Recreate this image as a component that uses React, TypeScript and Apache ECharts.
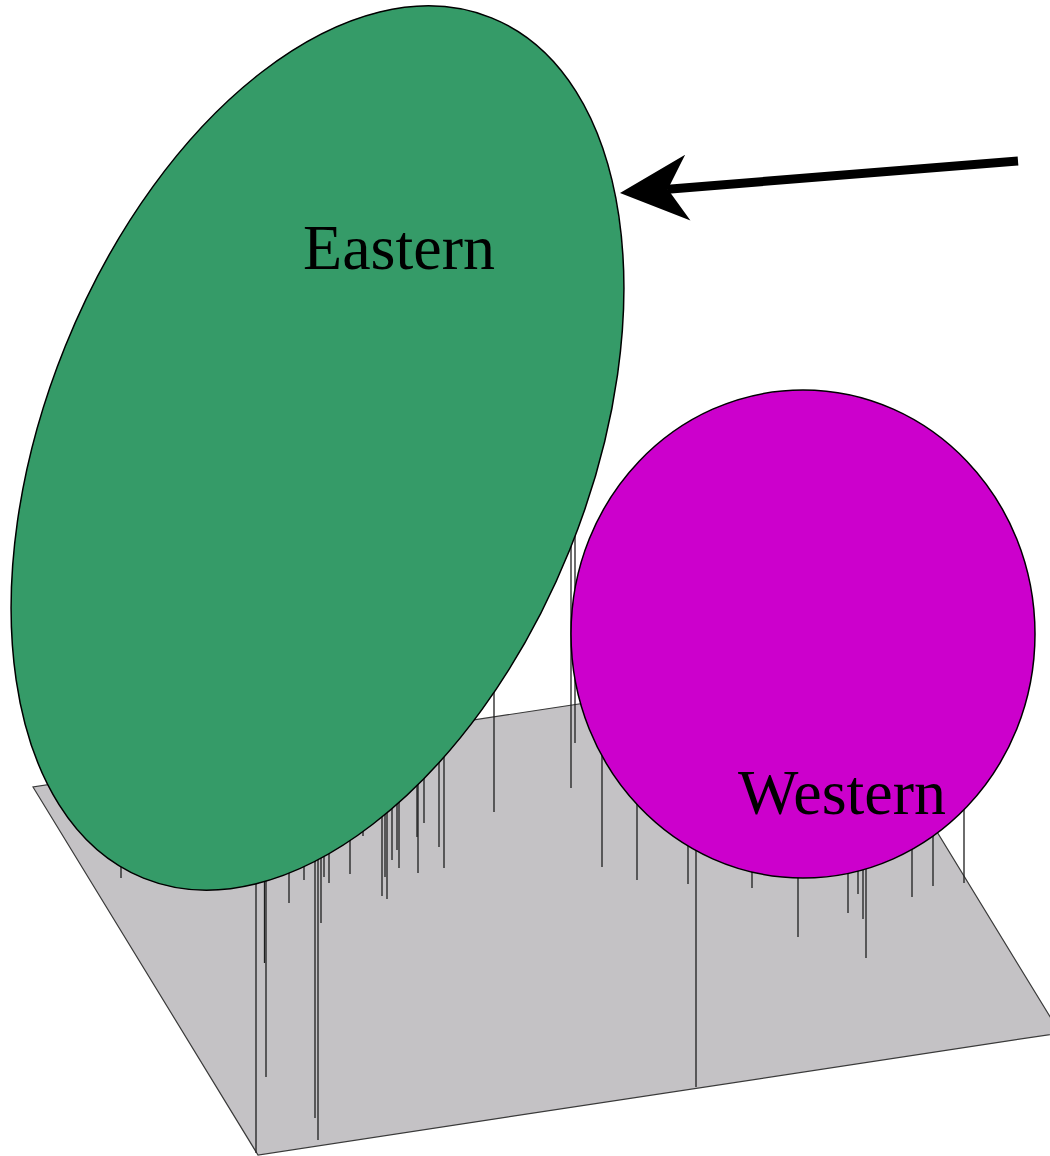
import React, { useEffect, useRef } from "react";
import * as echarts from "echarts";

// Base plane (parallelogram) corners
const planeX = [33, 258, 1060, 835];
const planeY = [787, 1155, 1033, 665];

// Drop lines: x position, projected point height (top), foot on plane (bottom)
const dropX = [121, 256, 264.5, 266, 289, 304, 315, 318, 321, 324, 329, 350, 363, 382, 385, 387, 392, 397, 399, 417, 418, 424, 439, 444, 494, 571, 575,
  602, 637, 688, 696, 752, 798, 848, 858, 863, 866, 912, 933, 964];
const dropTop = [800, 820, 820, 820, 760, 760, 760, 760, 760, 760, 760, 760, 760, 740, 740, 740, 740, 740, 740, 720, 720, 720, 720, 720, 600, 500, 500,
  700, 700, 700, 700, 700, 700, 700, 700, 700, 700, 700, 700, 740];
const dropBottom = [878, 1153, 963, 1077, 903, 880, 1118, 1140, 923, 877, 883, 874, 836, 896, 877, 899, 860, 850, 868, 837, 873, 823, 847, 868, 812, 788, 743,
  867, 880, 884, 1087, 888, 937, 913, 894, 919, 958, 897, 886, 883];

// Cluster ellipses
const clusterNames = ["Eastern", "Western"];
const clusterCX = [317.5, 803];
const clusterCY = [448, 634];
const clusterA = [464, 232];
const clusterB = [272, 244];
const clusterAngle = [68, 0];
const clusterColors = ["#359b68", "#cc00cc"];
const labelX = [399, 842];
const labelY = [247, 792];

// Arrow annotation
const arrowTail = [1018, 161];
const arrowTip = [620, 193];

export default function App() {
  const ref = useRef<HTMLDivElement>(null);
  useEffect(() => {
    document.body.style.margin = "0";
    const chart = echarts.init(ref.current!, null, { renderer: "svg" });
    const option: any = {
      animation: false,
      grid: { left: 0, right: 0, top: 0, bottom: 0 },
      xAxis: { type: "value", min: 0, max: 1050, show: false },
      yAxis: { type: "value", min: 0, max: 1156, inverse: true, show: false },
      series: [
        {
          type: "custom",
          z: 1,
          data: planeX.map((x, i) => [x, planeY[i]]),
          renderItem: (params: any, api: any) => {
            if (params.dataIndex !== 0) return null;
            const pts = planeX.map((x, i) => api.coord([x, planeY[i]]));
            return {
              type: "polygon",
              shape: { points: pts },
              style: { fill: "#c4c2c5", stroke: "#3a3a3a", lineWidth: 1.2 },
            };
          },
        },
        {
          type: "custom",
          z: 2,
          data: dropX.map((x, i) => [x, dropTop[i], dropBottom[i]]),
          renderItem: (params: any, api: any) => {
            const p1 = api.coord([api.value(0), api.value(1)]);
            const p2 = api.coord([api.value(0), api.value(2)]);
            return {
              type: "line",
              shape: { x1: p1[0], y1: p1[1], x2: p2[0], y2: p2[1] },
              style: { stroke: "#1e1e1e", lineWidth: 1.3 },
            };
          },
        },
        {
          type: "custom",
          z: 3,
          data: clusterNames.map((n, i) => [clusterCX[i], clusterCY[i], clusterA[i], clusterB[i], clusterAngle[i]]),
          renderItem: (params: any, api: any) => {
            const c = api.coord([api.value(0), api.value(1)]);
            const s = api.size([api.value(2) * 2, api.value(3) * 2], [api.value(0), api.value(1)]);
            return {
              type: "ellipse",
              x: c[0],
              y: c[1],
              rotation: (api.value(4) * Math.PI) / 180,
              shape: { cx: 0, cy: 0, rx: Math.abs(s[0]) / 2, ry: Math.abs(s[1]) / 2 },
              style: { fill: clusterColors[params.dataIndex], stroke: "#000", lineWidth: 1.5 },
            };
          },
        },
        {
          type: "custom",
          z: 4,
          data: clusterNames.map((n, i) => [labelX[i], labelY[i], n]),
          renderItem: (params: any, api: any) => {
            const c = api.coord([api.value(0), api.value(1)]);
            return {
              type: "text",
              x: c[0],
              y: c[1],
              style: {
                text: clusterNames[params.dataIndex],
                font: '64px "Liberation Serif"',
                fill: "#000",
                align: "center",
                verticalAlign: "middle",
              },
            };
          },
        },
        {
          type: "custom",
          z: 5,
          data: [[arrowTail[0], arrowTail[1], arrowTip[0], arrowTip[1]]],
          renderItem: (params: any, api: any) => {
            const t = api.coord([api.value(0), api.value(1)]);
            const h = api.coord([api.value(2), api.value(3)]);
            const dx = h[0] - t[0];
            const dy = h[1] - t[1];
            const len = Math.sqrt(dx * dx + dy * dy);
            const ux = dx / len;
            const uy = dy / len;
            const nx = -uy;
            const ny = ux;
            const headLen = 68;
            const halfW = 33;
            const notch = 48;
            const bx = h[0] - ux * headLen;
            const by = h[1] - uy * headLen;
            const mx = h[0] - ux * notch;
            const my = h[1] - uy * notch;
            return {
              type: "group",
              children: [
                {
                  type: "line",
                  shape: { x1: t[0], y1: t[1], x2: mx, y2: my },
                  style: { stroke: "#000", lineWidth: 9 },
                },
                {
                  type: "polygon",
                  shape: {
                    points: [
                      [h[0], h[1]],
                      [bx + nx * halfW, by + ny * halfW],
                      [mx, my],
                      [bx - nx * halfW, by - ny * halfW],
                    ],
                  },
                  style: { fill: "#000" },
                },
              ],
            };
          },
        },
      ],
    };
    chart.setOption(option);
    return () => chart.dispose();
  }, []);
  return <div ref={ref} style={{ width: 1050, height: 1156 }} />;
}
